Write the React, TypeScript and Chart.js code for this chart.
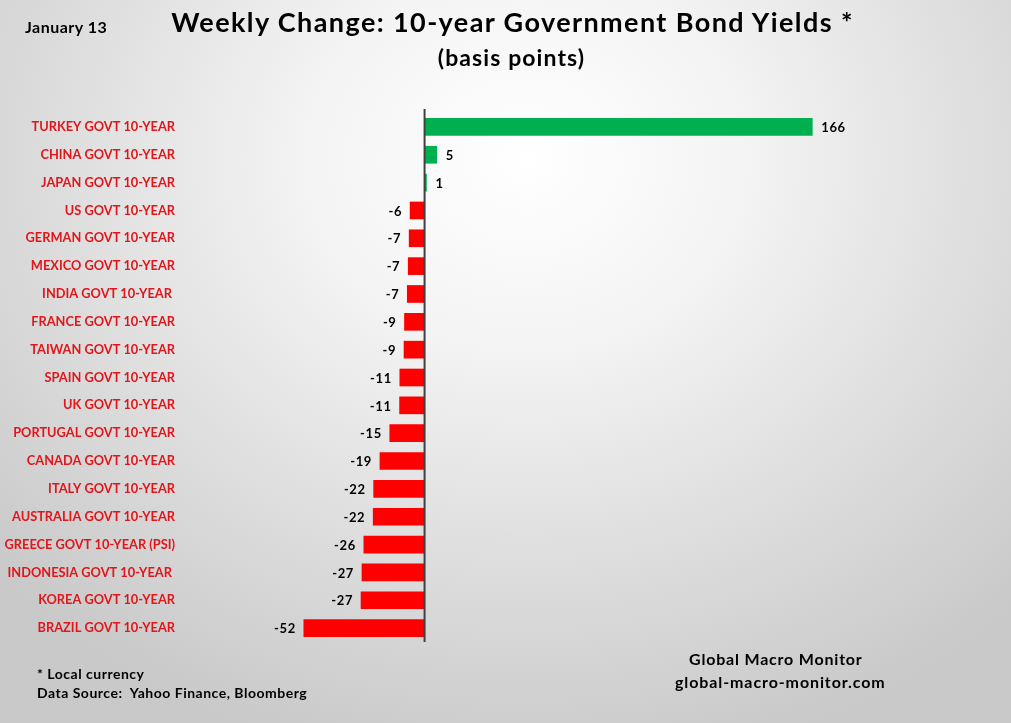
import React, { useEffect, useRef } from "react";
import { Chart, registerables } from "chart.js";

Chart.register(...registerables);

const categories = [
  "TURKEY GOVT 10-YEAR",
  "CHINA GOVT 10-YEAR",
  "JAPAN GOVT 10-YEAR",
  "US GOVT 10-YEAR",
  "GERMAN GOVT 10-YEAR",
  "MEXICO GOVT 10-YEAR",
  "INDIA GOVT 10-YEAR ",
  "FRANCE GOVT 10-YEAR",
  "TAIWAN GOVT 10-YEAR",
  "SPAIN GOVT 10-YEAR",
  "UK GOVT 10-YEAR",
  "PORTUGAL GOVT 10-YEAR",
  "CANADA GOVT 10-YEAR",
  "ITALY GOVT 10-YEAR",
  "AUSTRALIA GOVT 10-YEAR",
  "GREECE GOVT 10-YEAR (PSI)",
  "INDONESIA GOVT 10-YEAR ",
  "KOREA GOVT 10-YEAR",
  "BRAZIL GOVT 10-YEAR",
];

const weeklyChange = [
  166, 5.2, 0.8, -6.2, -6.6, -7.0, -7.4, -8.6, -8.8, -10.6, -10.7, -14.9,
  -19.1, -21.8, -22.0, -26.0, -26.8, -27.2, -51.7,
];

const xMin = -100;
const xMax = 180;

const positiveColor = "#00b050";
const negativeColor = "#ff0000";
const labelColor = "#e0161b";
const font = "Lato, 'Open Sans', sans-serif";

const valueLabelPlugin = {
  id: "valueLabels",
  afterDatasetsDraw(chart: any) {
    const ctx = chart.ctx;
    const meta = chart.getDatasetMeta(0);
    const data = chart.data.datasets[0].data as number[];
    const x0 = chart.scales.x.getPixelForValue(0);
    const area = chart.chartArea;
    ctx.save();
    ctx.strokeStyle = "#404040";
    ctx.lineWidth = 2;
    ctx.beginPath();
    ctx.moveTo(x0, area.top - 4);
    ctx.lineTo(x0, area.bottom);
    ctx.stroke();
    ctx.font = `bold 13px ${font}`;
    (ctx as any).letterSpacing = "0.6px";
    ctx.fillStyle = "#000000";
    ctx.textBaseline = "middle";
    meta.data.forEach((bar: any, i: number) => {
      const v = data[i];
      const txt = String(Math.round(v));
      if (v >= 0) {
        ctx.textAlign = "left";
        ctx.fillText(txt, bar.x + 9, bar.y + 1);
      } else {
        ctx.textAlign = "right";
        ctx.fillText(txt, bar.x - 8, bar.y + 1);
      }
    });
    ctx.restore();
  },
};

export default function App() {
  const canvasRef = useRef<HTMLCanvasElement | null>(null);

  useEffect(() => {
    document.body.style.margin = "0";
    const canvas = canvasRef.current;
    if (!canvas) return;
    const chart = new Chart(canvas, {
      type: "bar",
      data: {
        labels: categories,
        datasets: [
          {
            data: weeklyChange,
            backgroundColor: weeklyChange.map((v) =>
              v >= 0 ? positiveColor : negativeColor
            ),
            barThickness: 17,
            borderWidth: 0,
          },
        ],
      },
      options: {
        indexAxis: "y",
        animation: false,
        responsive: false,
        maintainAspectRatio: false,
        layout: { padding: { top: 113, bottom: 81, left: 0, right: 166 } },
        plugins: {
          legend: { display: false },
          tooltip: { enabled: false },
          title: { display: false },
        },
        scales: {
          x: {
            min: xMin,
            max: xMax,
            ticks: { display: false, stepSize: 20 },
            border: { display: false },
            grid: { display: false, drawTicks: false },
          },
          y: {
            afterFit: (scale: any) => {
              scale.width = 191;
            },
            border: { display: false },
            grid: { display: false, drawTicks: false },
            ticks: {
              padding: 16,
              color: labelColor,
              font: { family: font, size: 12.8, weight: "bold" },
              autoSkip: false,
            },
          },
        },
      },
      plugins: [valueLabelPlugin],
    });
    return () => chart.destroy();
  }, []);

  const text: React.CSSProperties = {
    position: "absolute",
    fontFamily: font,
    fontWeight: "bold",
    color: "#000",
    whiteSpace: "pre",
    lineHeight: 1,
  };

  return (
    <div
      style={{
        position: "absolute",
        left: 0,
        top: 0,
        width: 1011,
        height: 723,
        overflow: "hidden",
        background:
          "radial-gradient(ellipse 70% 85% at 52% 22%, #ffffff 0%, #f4f4f4 30%, #dedede 65%, #c9c9c9 100%)",
      }}
    >
      <canvas
        ref={canvasRef}
        width={1011}
        height={723}
        style={{ position: "absolute", left: 0, top: 0, width: 1011, height: 723 }}
      />
      <div style={{ ...text, left: 25, top: 19, fontSize: 16, letterSpacing: 0.5 }}>
        January 13
      </div>
      <div
        style={{
          ...text,
          left: 0,
          width: 1011,
          top: 8,
          fontSize: 27,
          letterSpacing: 1.4,
          textAlign: "center",
          paddingLeft: 14,
          boxSizing: "border-box",
        }}
      >
        Weekly Change: 10-year Government Bond Yields *
      </div>
      <div
        style={{
          ...text,
          left: 0,
          width: 1011,
          top: 46,
          fontSize: 23,
          letterSpacing: 1.1,
          textAlign: "center",
          paddingLeft: 12,
          boxSizing: "border-box",
        }}
      >
        (basis points)
      </div>
      <div style={{ ...text, left: 37, top: 667, fontSize: 14, letterSpacing: 0.5 }}>
        * Local currency
      </div>
      <div style={{ ...text, left: 37, top: 686, fontSize: 14, letterSpacing: 0.5 }}>
        Data Source:  Yahoo Finance, Bloomberg
      </div>
      <div style={{ ...text, left: 689, top: 651, fontSize: 16, letterSpacing: 0.8 }}>
        Global Macro Monitor
      </div>
      <div style={{ ...text, left: 675, top: 674, fontSize: 16, letterSpacing: 0.9 }}>
        global-macro-monitor.com
      </div>
    </div>
  );
}
